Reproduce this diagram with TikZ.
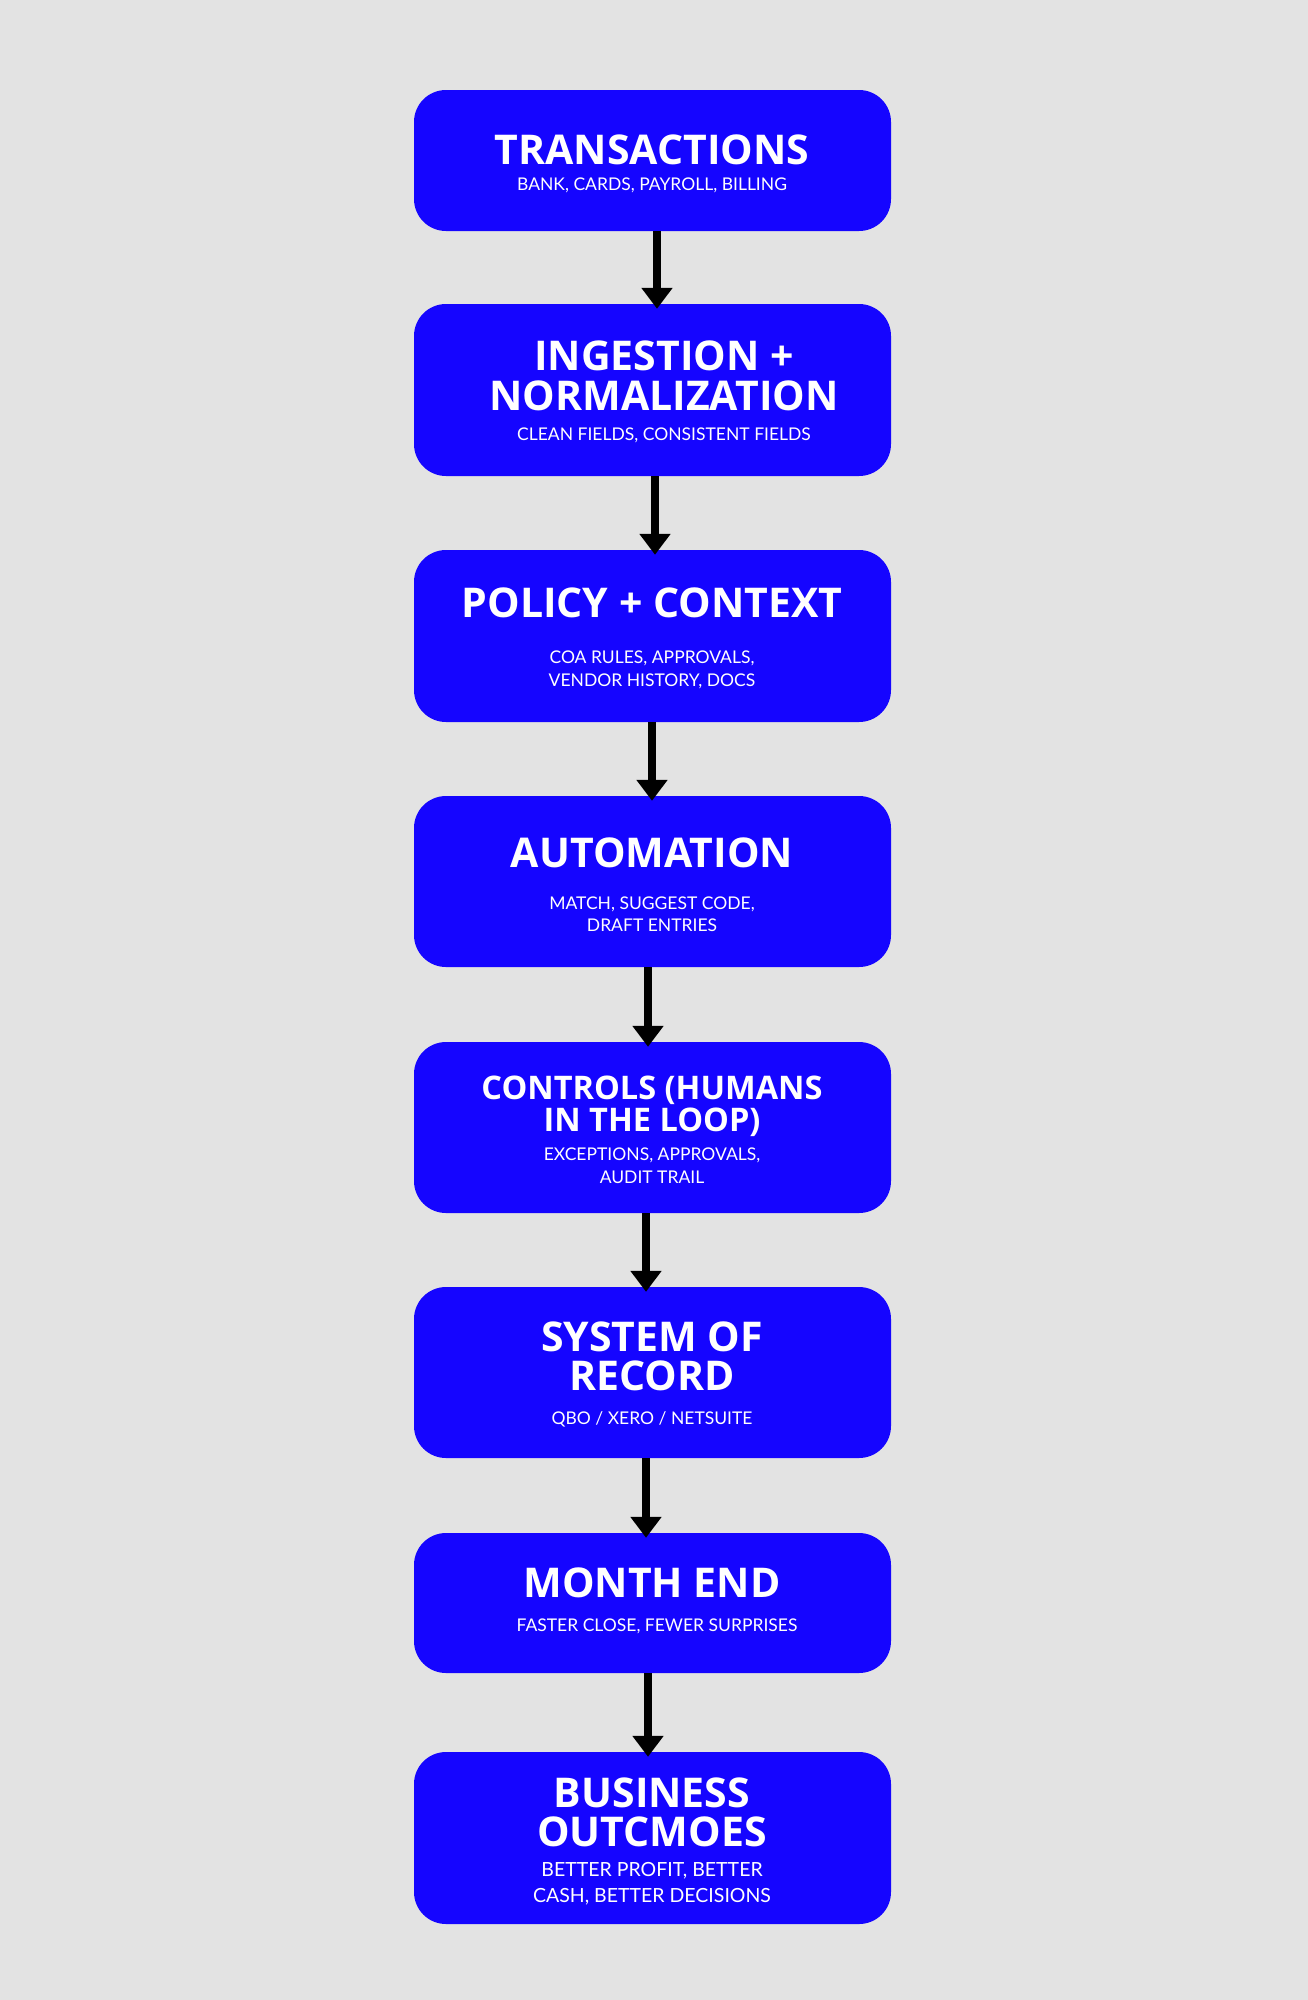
\documentclass[tikz,border=0pt]{standalone}
\usepackage{fontspec}
\setmainfont{Open Sans}
\newfontfamily\subfont{Lato}
\usetikzlibrary{arrows.meta}
\definecolor{bg}{RGB}{227,227,227}
\definecolor{boxblue}{RGB}{21,5,255}
\tikzset{
  stepbox/.style={rectangle, fill=boxblue, rounded corners=32pt, minimum width=477pt, inner sep=0pt, draw=none},
  ttl/.style={anchor=base, text=white, inner sep=0pt, font=\fontsize{41}{41}\selectfont\bfseries},
  ttlsmall/.style={ttl, font=\fontsize{32.5}{32.5}\selectfont\bfseries},
  sub/.style={anchor=base, text=white, inner sep=0pt, font=\subfont\fontsize{17.5}{17.5}\selectfont},
  subbig/.style={sub, font=\subfont\fontsize{19.5}{19.5}\selectfont},
  arr/.style={line width=8pt, -{Triangle[width=30pt,length=21pt]}, black}
}
\begin{document}
\begin{tikzpicture}[x=1pt,y=-1pt]
\fill[bg] (0,0) rectangle (1308,2000);
\useasboundingbox (0,0) rectangle (1308,2000);
% boxes
\node[stepbox, minimum height=141pt] (b1) at (652.5,160.5) {};
\node[stepbox, minimum height=172pt] (b2) at (652.5,390) {};
\node[stepbox, minimum height=172pt] (b3) at (652.5,636) {};
\node[stepbox, minimum height=171pt] (b4) at (652.5,881.5) {};
\node[stepbox, minimum height=171pt] (b5) at (652.5,1127.5) {};
\node[stepbox, minimum height=171pt] (b6) at (652.5,1372.5) {};
\node[stepbox, minimum height=140pt] (b7) at (652.5,1603) {};
\node[stepbox, minimum height=172pt] (b8) at (652.5,1838) {};
% texts
\node[ttl] (t1) at (652,164) {TRANSACTIONS};
\node[sub] (s1) at (652,190) {BANK, CARDS, PAYROLL, BILLING};
\node[ttl] (t2a) at (664,370) {INGESTION +};
\node[ttl] (t2b) at (664,410) {NORMALIZATION};
\node[sub] (s2) at (664,440) {CLEAN FIELDS, CONSISTENT FIELDS};
\node[ttl] (t3) at (652,617) {POLICY + CONTEXT};
\node[sub] (s3a) at (652,663) {COA RULES, APPROVALS,};
\node[sub] (s3b) at (652,686) {VENDOR HISTORY, DOCS};
\node[ttl] (t4) at (652,867) {AUTOMATION};
\node[sub] (s4a) at (652,909) {MATCH, SUGGEST CODE,};
\node[sub] (s4b) at (652,931) {DRAFT ENTRIES};
\node[ttlsmall] (t5a) at (652,1099) {CONTROLS (HUMANS};
\node[ttlsmall] (t5b) at (652,1131) {IN THE LOOP)};
\node[sub] (s5a) at (652,1160) {EXCEPTIONS, APPROVALS,};
\node[sub] (s5b) at (652,1183) {AUDIT TRAIL};
\node[ttl] (t6a) at (652,1351) {SYSTEM OF};
\node[ttl] (t6b) at (652,1390) {RECORD};
\node[sub] (s6) at (652,1424) {QBO / XERO / NETSUITE};
\node[ttl] (t7) at (652,1597) {MONTH END};
\node[sub] (s7) at (657,1631) {FASTER CLOSE, FEWER SURPRISES};
\node[ttl] (t8a) at (652,1807) {BUSINESS};
\node[ttl] (t8b) at (652,1846) {OUTCMOES};
\node[subbig] (s8a) at (652,1876) {BETTER PROFIT, BETTER};
\node[subbig] (s8b) at (652,1902) {CASH, BETTER DECISIONS};
% arrows
\draw[arr] (b1.south -| 657,0) -- ([yshift=-5pt]b2.north -| 657,0);
\draw[arr] (b2.south -| 655,0) -- ([yshift=-5pt]b3.north -| 655,0);
\draw[arr] (b3.south -| 652,0) -- ([yshift=-5pt]b4.north -| 652,0);
\draw[arr] (b4.south -| 648,0) -- ([yshift=-5pt]b5.north -| 648,0);
\draw[arr] (b5.south -| 646,0) -- ([yshift=-5pt]b6.north -| 646,0);
\draw[arr] (b6.south -| 646,0) -- ([yshift=-5pt]b7.north -| 646,0);
\draw[arr] (b7.south -| 648,0) -- ([yshift=-5pt]b8.north -| 648,0);
\end{tikzpicture}
\end{document}
